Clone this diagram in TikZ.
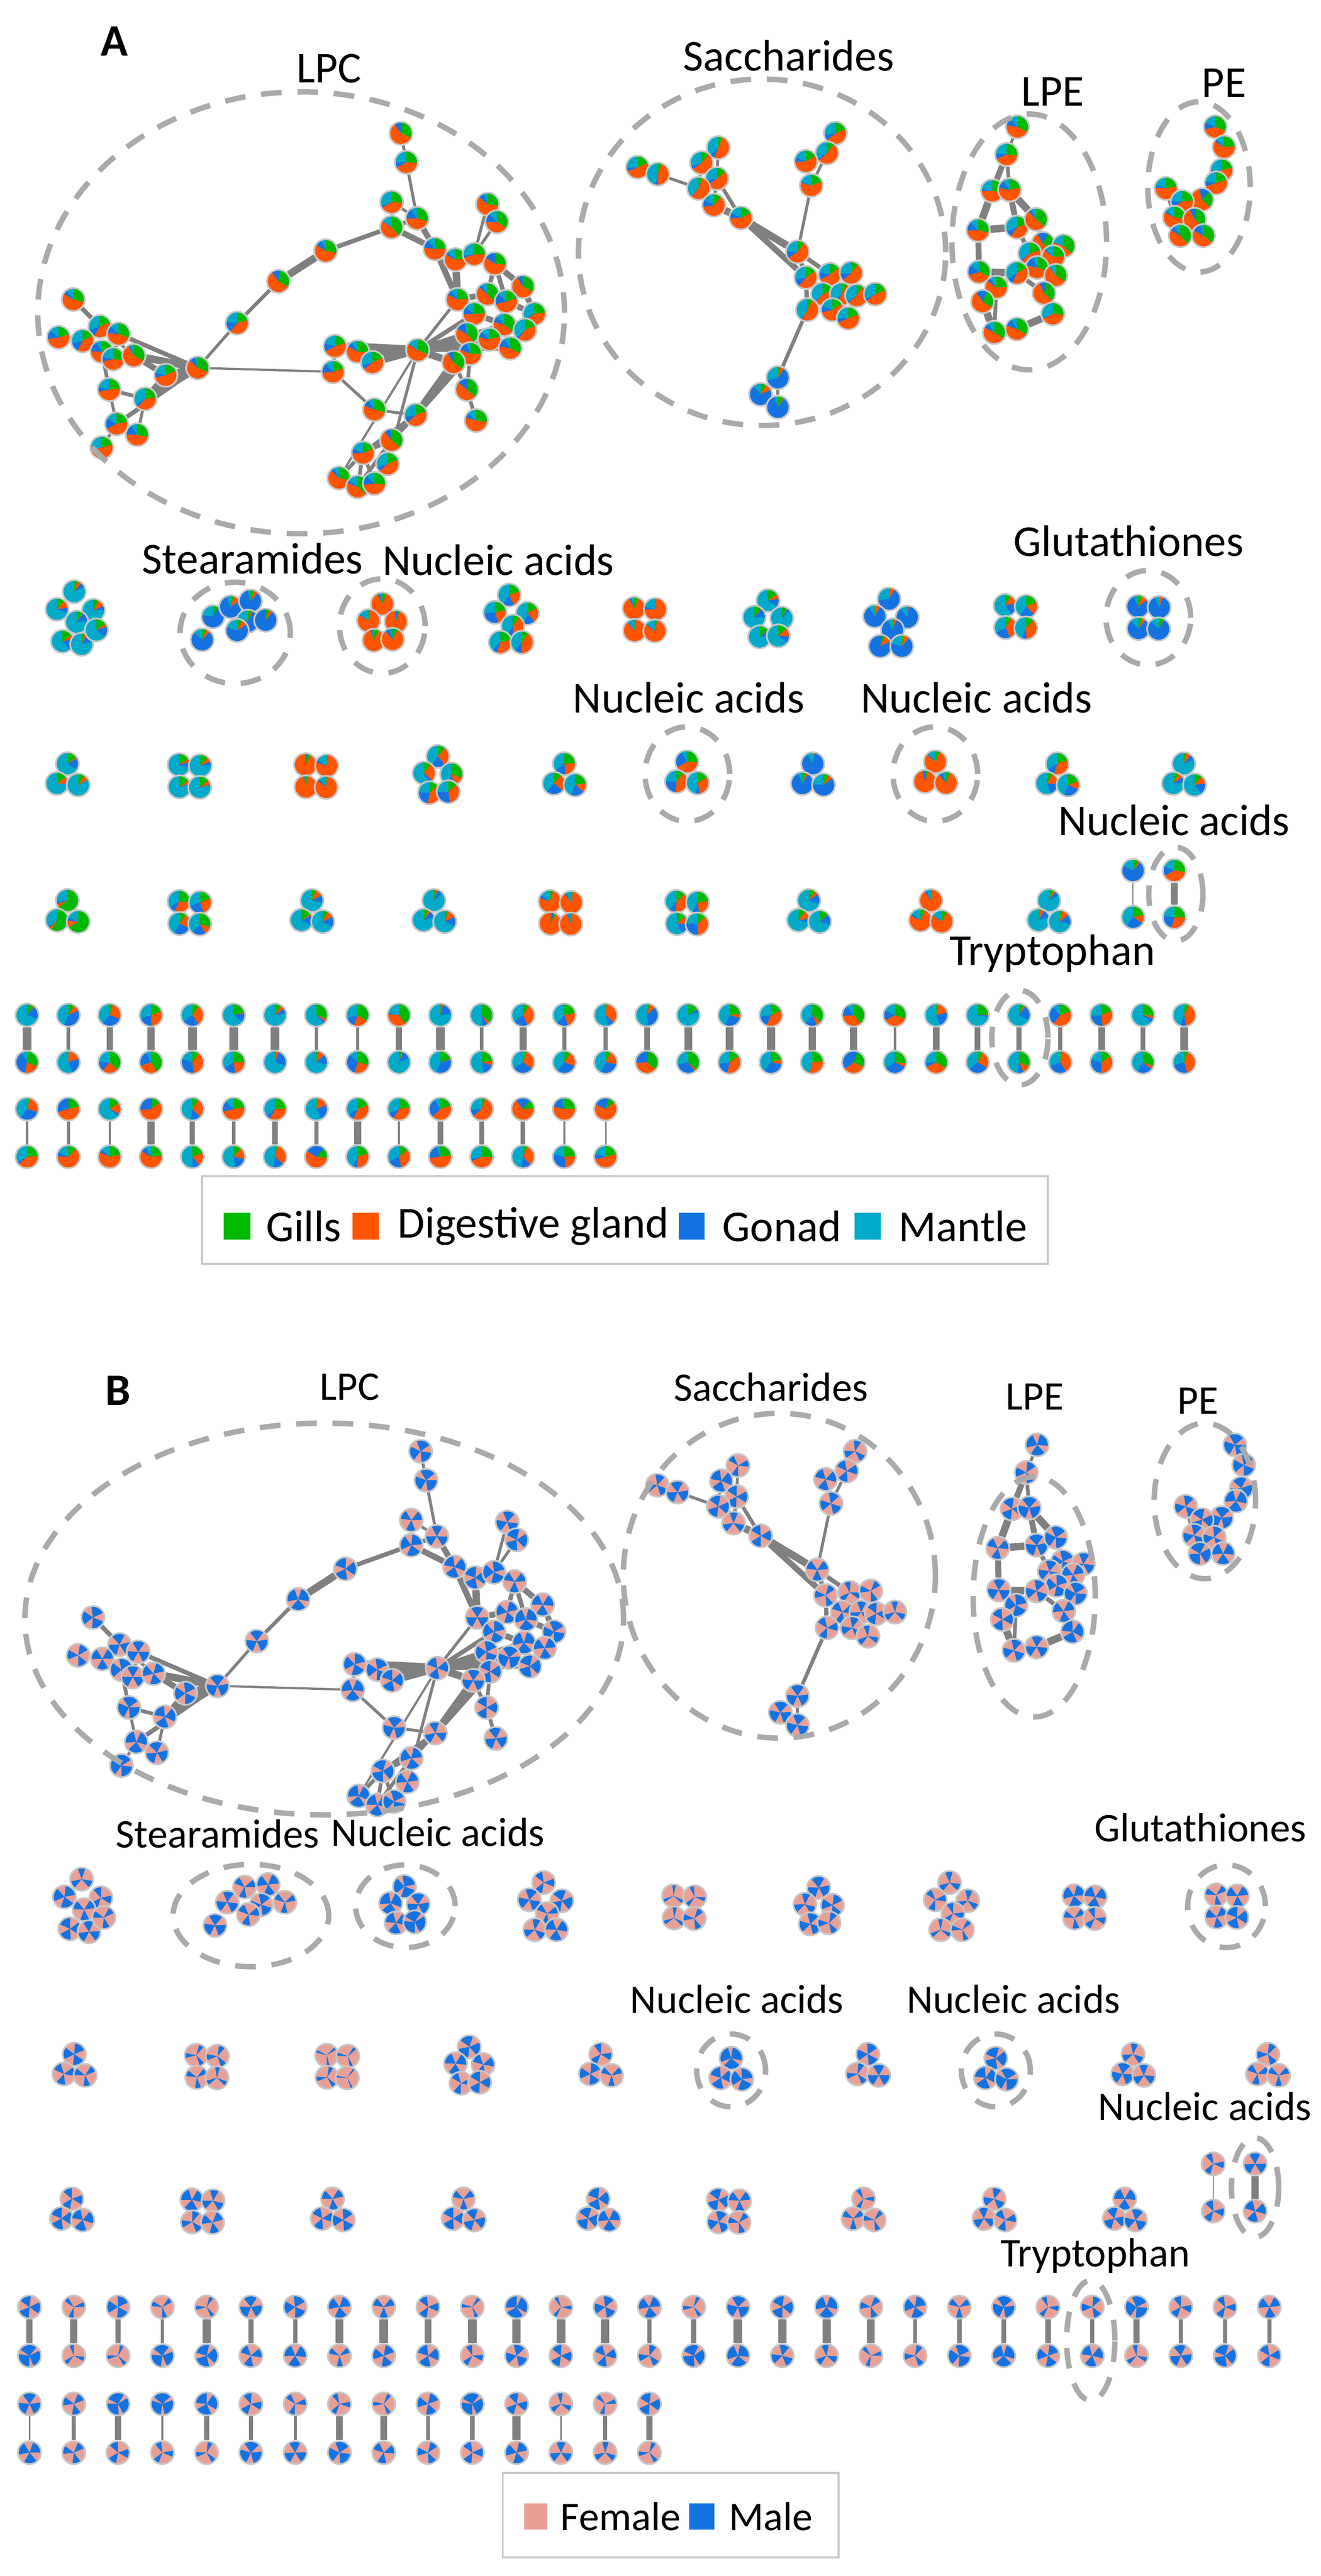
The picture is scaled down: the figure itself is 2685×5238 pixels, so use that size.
\documentclass[tikz,border=0pt]{standalone}
\usepackage{fontspec}
\setmainfont{Carlito}
\usetikzlibrary{backgrounds}
\definecolor{cG}{RGB}{0,185,0}
\definecolor{cO}{RGB}{255,85,0}
\definecolor{cB}{RGB}{20,115,225}
\definecolor{cC}{RGB}{0,170,200}
\definecolor{cP}{RGB}{232,160,150}
\definecolor{cE}{RGB}{128,128,128}
\definecolor{cD}{RGB}{170,170,170}
\definecolor{cN}{RGB}{200,200,200}
\newcommand\ctr{(path picture bounding box.center)}
\newcommand\pieA[6]{%
 \pgfmathsetmacro\zga{random(#1,#2)}\pgfmathsetmacro\zgb{random(#3,#4)}\pgfmathsetmacro\zgc{random(#5,#6)}%
 \fill[cC] \ctr circle[radius=1cm];
 \fill[cG] \ctr -- ++(90:1cm) arc[start angle=90,delta angle=-\zga,radius=1cm] -- cycle;
 \fill[cO] \ctr -- ++(90-\zga:1cm) arc[start angle=90-\zga,delta angle=-\zgb,radius=1cm] -- cycle;
 \fill[cB] \ctr -- ++(90-\zga-\zgb:1cm) arc[start angle=90-\zga-\zgb,delta angle=-\zgc,radius=1cm] -- cycle;}
\newcommand\pieB[2]{%
 \pgfmathsetmacro\zqa{random(#1,#2)/3}\pgfmathsetmacro\zqo{random(0,359)}%
 \fill[cP] \ctr circle[radius=1cm];
 \foreach \k in {0,120,240}{\fill[cB] \ctr -- ++(\zqo+\k:1cm) arc[start angle=\zqo+\k,delta angle=\zqa,radius=1cm] -- cycle;}}
\tikzset{
 nd/.style={circle,inner sep=0pt,minimum size=0.47cm,draw=cN,line width=0.035cm},
 pA/.style n args={6}{nd,path picture={\pieA{#1}{#2}{#3}{#4}{#5}{#6}}},
 pQ/.style n args={2}{nd,path picture={\pieB{#1}{#2}}},
 setA/.style={
  pa/.style={pA={30}{110}{40}{150}{20}{100}},
  po/.style={pA={1}{30}{260}{340}{1}{20}},
  pb/.style={pA={1}{30}{1}{40}{220}{320}},
  pc/.style={pA={10}{60}{1}{50}{1}{60}},
  pg/.style={pA={200}{300}{1}{40}{1}{30}},
  pl/.style={pA={60}{140}{140}{220}{1}{60}},
  ps/.style={pA={20}{70}{150}{230}{1}{40}},
  pp/.style={pA={1}{150}{1}{150}{1}{150}},
  pr/.style={pA={1}{100}{60}{250}{1}{120}}},
 setB/.style={
  pa/.style={pQ={100}{220}}, po/.style={pQ={30}{120}}, pb/.style={pQ={200}{300}},
  pc/.style={pQ={100}{220}}, pg/.style={pQ={100}{220}}, pl/.style={pQ={150}{260}},
  ps/.style={pQ={100}{220}}, pp/.style={pQ={60}{300}}, pr/.style={pQ={60}{300}}},
 ed/.style={draw=cE},
 dsh/.style={draw=cD,line width=0.11cm,dash pattern=on 0.42cm off 0.32cm},
 lbl/.style={font=\fontsize{25.5}{30}\selectfont,inner sep=0pt},
 lbB/.style={font=\fontsize{23.5}{28}\selectfont,inner sep=0pt},
}
\newcommand\clus[5]{%
 \ifcase#4\or\or\or
  \foreach \i/\dx/\dy in {a/0/-25,b/-21/15,c/22/18}{\node[#5] (#1\i) at (#2+\dx,#3+\dy) {};}
 \or
  \foreach \i/\dx/\dy in {a/-21/-23,b/22/-21,c/-20/22,d/21/23}{\node[#5] (#1\i) at (#2+\dx,#3+\dy) {};}
 \or
  \foreach \i/\dx/\dy in {a/0/-40,b/-28/-6,c/28/-4,d/-17/34,e/21/32}{\node[#5] (#1\i) at (#2+\dx,#3+\dy) {};}
 \or
  \foreach \i/\dx/\dy in {a/-5/-50,b/-34/-15,c/32/-13,d/2/13,e/-23/46,f/21/46}{\node[#5] (#1\i) at (#2+\dx,#3+\dy) {};}
 \or
  \foreach \i/\dx/\dy in {a/-5/-57,b/-40/-21,c/34/-19,d/0/5,e/-29/44,f/10/50,g/40/21}{\node[#5] (#1\i) at (#2+\dx,#3+\dy) {};}
 \fi}
\newcommand\network[1]{%
 \foreach \n/\x/\y in {L1/149/609,L2/203/664,L3/119/686,L4/168/693,L5/241/679,L6/207/715,L7/230/730,L8/272/723,L9/337/763,L10/222/792,L11/295/811,L12/237/862,L13/279/884,L14/207/910,
  C1/402/748,C2/482/657,C3/566/572,C4/662/510,C5/796/462,C6/796/411,C7/848/444,C8/815/271,C9/826/330,
  R1/884/506,R2/926/528,R3/964/517,R4/991/415,R5/1010/451,R6/1006/536,R7/1063/583,R8/930/609,R9/991/598,R10/1029/613,R11/1086/638,R12/964/638,R13/1025/660,R14/1067/671,R15/949/679,R16/995/690,R17/1037/708,R18/956/719,R19/922/737,R20/849/712,R21/681/704,R22/727/715,R23/757/737,R24/677/756,R25/949/792,R26/968/855,R27/761/833,R28/845/844,R29/796/895,R30/738/921,R31/788/943,R32/689/972,R33/727/990,R34/761/983}
  {\node[pl] (#1\n) at (\x,\y) {};}
 \foreach \n/\x/\y in {S1/1296/340,S2/1337/354,S3/1460/300,S4/1426/331,S5/1457/363,S6/1420/383,S7/1451/417,S8/1506/443,S9/1698/271,S10/1681/311,S11/1638/328,S12/1649/377,S13/1621/512,S14/1638/564,S15/1687/558,S16/1730/555,S17/1672/598,S18/1710/598,S19/1741/601,S20/1779/598,S21/1641/630,S22/1692/630,S23/1724/647}
  {\node[ps] (#1\n) at (\x,\y) {};}
 \foreach \n/\x/\y in {S24/1581/768,S25/1546/802,S26/1581/828}{\node[pb] (#1\n) at (\x,\y) {};}
 \foreach \n/\x/\y in {P1/2068/258,P2/2046/314,P3/2017/388,P4/2052/386,P5/1988/468,P6/2067/462,P7/2106/446,P8/2120/495,P9/2162/500,P10/2093/515,P11/2141/522,P12/2108/544,P13/2146/560,P14/1990/553,P15/2067/555,P16/2025/584,P17/1997/613,P18/2122/596,P19/2140/638,P20/2021/676,P21/2067/669,
  E1/2470/258,E2/2488/299,E3/2483/346,E4/2472/372,E5/2370/383,E6/2443/406,E7/2403/410,E8/2387/442,E9/2428/446,E10/2399/479,E11/2446/479}
  {\node[pl] (#1\n) at (\x,\y) {};}
 \begin{pgfonlayer}{background}
 \foreach \a/\b/\w in {L1/L2/.06,L2/L4/.05,L2/L5/.05,L3/L4/.04,L4/L6/.05,L5/L7/.05,L6/L7/.05,L7/L8/.05,L2/L8/.04,L8/L9/.08,L8/C1/.1,L5/C1/.06,L9/C1/.1,L6/L10/.05,L10/L11/.05,L11/L9/.08,L10/L12/.04,L12/L13/.05,L11/L13/.04,L12/L14/.04,L11/C1/.1,L12/C1/.06,
  C1/C2/.04,C2/C3/.05,C3/C4/.1,C4/C5/.06,C5/C6/.04,C5/C7/.06,C6/C7/.04,C8/C9/.04,C9/C7/.04,C1/R24/.03,
  C5/R1/.08,C7/R1/.08,R1/R2/.06,R2/R3/.06,R3/R4/.04,R4/R5/.04,R3/R5/.04,R3/R6/.06,R2/R8/.1,R1/R8/.08,R6/R7/.08,R8/R9/.08,R9/R10/.08,R10/R11/.08,R7/R11/.08,R12/R13/.08,R13/R14/.08,R11/R14/.08,R12/R15/.08,R15/R16/.08,R16/R17/.08,R14/R17/.08,R9/R12/.08,R8/R12/.08,R6/R9/.06,R6/R10/.06,R7/R10/.06,R15/R18/.06,R18/R19/.06,R19/R20/.1,R20/R15/.08,R20/R16/.08,R20/R13/.06,R20/R17/.06,R20/R12/.06,R20/R8/.04,R21/R20/.12,R22/R20/.12,R23/R20/.1,R21/R22/.05,R22/R23/.05,R21/R24/.05,R24/R27/.04,R27/R28/.04,R28/R19/.1,R28/R18/.08,R19/R25/.05,R25/R26/.05,R18/R25/.05,R28/R29/.06,R28/R30/.06,R20/R31/.04,R29/R30/.05,R30/R32/.05,R30/R33/.05,R30/R34/.05,R31/R34/.05,R29/R33/.05,R20/R32/.03,
  S1/S2/.04,S2/S6/.04,S3/S4/.04,S4/S5/.04,S3/S5/.04,S5/S6/.05,S4/S6/.04,S6/S7/.06,S5/S7/.05,S7/S8/.1,S5/S8/.05,S8/S13/.1,S7/S13/.06,S8/S14/.08,S13/S14/.06,S9/S10/.04,S10/S11/.04,S10/S12/.04,S11/S12/.04,S12/S13/.04,S13/S15/.06,S14/S15/.06,S14/S17/.06,S15/S16/.06,S16/S18/.06,S15/S17/.06,S17/S18/.06,S18/S19/.06,S19/S20/.06,S17/S21/.06,S21/S22/.06,S22/S23/.06,S18/S22/.06,S14/S21/.06,S21/S24/.05,S24/S25/.04,S24/S26/.04,S25/S26/.04,
  P1/P2/.04,P2/P3/.08,P2/P4/.05,P3/P4/.05,P3/P5/.1,P4/P7/.1,P4/P6/.08,P5/P6/.1,P6/P10/.06,P7/P8/.08,P8/P9/.06,P8/P10/.06,P9/P11/.06,P10/P12/.06,P11/P12/.06,P11/P13/.06,P12/P13/.06,P5/P14/.08,P14/P15/.1,P15/P12/.08,P14/P16/.06,P15/P16/.06,P16/P17/.06,P17/P20/.1,P20/P21/.08,P21/P19/.1,P19/P18/.06,P18/P13/.06,P18/P15/.06,P16/P20/.05,
  E1/E2/.05,E2/E3/.05,E3/E4/.05,E4/E6/.05,E6/E7/.05,E5/E7/.05,E7/E8/.05,E6/E9/.05,E8/E9/.05,E8/E10/.05,E9/E11/.05,E10/E11/.05,E7/E9/.05,E5/E8/.05}
  {\draw[ed,line width={1.5*\w cm}] (#1\a) -- (#1\b);}
 \end{pgfonlayer}}
\begin{document}
\begin{tikzpicture}[x=0.01cm,y=-0.01cm]
\pgfmathsetseed{4242}
\useasboundingbox (0,0) rectangle (2685,5238);
\begin{pgfonlayer}{background}\fill[white] (0,0) rectangle (2685,5238);\end{pgfonlayer}
%%%%%%%%%%%%%%%%%%%%% PANEL A
\begin{scope}[setA]
\node[font=\fontsize{26}{30}\selectfont\bfseries,inner sep=0pt] (labA) at (233,84) {A};
\network{A}
\draw[dsh] (612,636) ellipse[x radius=5.35cm,y radius=4.49cm];
\draw[dsh] (1549,513) ellipse[x radius=3.73cm,y radius=3.52cm];
\draw[dsh] (2092,492) ellipse[x radius=1.57cm,y radius=2.6cm];
\draw[dsh] (2437,380) ellipse[x radius=1.04cm,y radius=1.73cm];
\node[lbl] (aLPC) at (669,139) {LPC};
\node[lbl] (aSac) at (1603,113) {Saccharides};
\node[lbl] (aLPE) at (2140,187) {LPE};
\node[lbl] (aPE) at (2488,169) {PE};
% row 1
\clus{a11}{156}{1260}{7}{pc}
\foreach \i/\x/\y in {a/433/1254,b/411/1301,c/469/1234,d/509/1222,e/504/1263,f/482/1282,g/540/1261}{\node[pb] (st\i) at (\x,\y) {};}
\clus{a13}{777}{1268}{5}{po}
\clus{a14}{1040}{1260}{6}{pa}
\clus{a15}{1310}{1260}{4}{po}
\clus{a16}{1561}{1261}{5}{pc}
\clus{a17}{1812}{1268}{6}{pb}
\clus{a18}{2064}{1254}{4}{pa}
\clus{a19}{2334}{1256}{4}{pb}
\draw[dsh] (478,1287) ellipse[x radius=1.12cm,y radius=1.03cm];
\draw[dsh] (777,1273) ellipse[x radius=0.87cm,y radius=0.96cm];
\draw[dsh] (2334,1256) ellipse[x radius=0.86cm,y radius=0.96cm];
\node[lbl] (aSt) at (513,1136) {Stearamides};
\node[lbl] (aNA1) at (1013,1139) {Nucleic acids};
\node[lbl] (aGl) at (2294,1100) {Glutathiones};
% row 2
\clus{a21}{137}{1578}{3}{pc}
\clus{a22}{385}{1578}{4}{pc}
\clus{a23}{642}{1578}{4}{po}
\clus{a24}{890}{1578}{5}{pa}
\clus{a25}{1147}{1578}{3}{pa}
\clus{a26}{1396}{1574}{3}{pa}
\clus{a27}{1652}{1578}{3}{pb}
\clus{a28}{1901}{1574}{3}{po}
\clus{a29}{2149}{1578}{3}{pa}
\clus{a20}{2406}{1578}{3}{pc}
\draw[dsh] (1397,1574) ellipse[x radius=0.86cm,y radius=0.96cm];
\draw[dsh] (1901,1574) ellipse[x radius=0.86cm,y radius=0.96cm];
\node[lbl] (aNA2) at (1400,1419) {Nucleic acids};
\node[lbl] (aNA3) at (1985,1419) {Nucleic acids};
% row 3
\clus{a31}{137}{1856}{3}{pg}
\clus{a32}{385}{1856}{4}{pa}
\clus{a33}{634}{1856}{3}{pc}
\clus{a34}{882}{1856}{3}{pc}
\clus{a35}{1139}{1856}{4}{po}
\clus{a36}{1396}{1856}{4}{pa}
\clus{a37}{1644}{1856}{3}{pc}
\clus{a38}{1892}{1856}{3}{po}
\clus{a39}{2132}{1856}{3}{pc}
\node[pb] (a3pa) at (2303,1770) {};
\node[pa] (a3pb) at (2303,1865) {};
\node[pa] (a3qa) at (2387,1770) {};
\node[pa] (a3qb) at (2387,1865) {};
\begin{pgfonlayer}{background}
\draw[ed,line width=0.02cm] (a3pa) -- (a3pb);
\draw[ed,line width=0.14cm] (a3qa) -- (a3qb);
\end{pgfonlayer}
\draw[dsh] (2390,1818) ellipse[x radius=0.55cm,y radius=0.95cm];
\node[lbl] (aNA4) at (2386,1668) {Nucleic acids};
% pairs
\foreach \k in {0,...,28}{
 \node[pp] (a4t\k) at (55+84*\k,2064) {};
 \node[pp] (a4b\k) at (55+84*\k,2160) {};
 \pgfmathsetmacro\ww{random(6,18)/100}
 \begin{pgfonlayer}{background}\draw[ed,line width=\ww cm] (a4t\k) -- (a4b\k);\end{pgfonlayer}}
\foreach \k in {0,...,14}{
 \node[pr] (a5t\k) at (55+84*\k,2255) {};
 \node[pr] (a5b\k) at (55+84*\k,2352) {};
 \pgfmathsetmacro\ww{random(3,17)/100}
 \begin{pgfonlayer}{background}\draw[ed,line width=\ww cm] (a5t\k) -- (a5b\k);\end{pgfonlayer}}
\draw[dsh] (2073,2110) ellipse[x radius=0.57cm,y radius=0.96cm];
\node[lbl] (aTr) at (2139,1939) {Tryptophan};
% legend
\draw[draw=cN,line width=0.04cm] (411,2392) rectangle (2130,2570);
\fill[cG] (455,2466) rectangle (509,2520);
\node[lbl,anchor=west] (lgG) at (540,2493) {Gills};
\fill[cO] (717,2466) rectangle (770,2520);
\node[lbl,anchor=west] (lgD) at (808,2493) {Digestive gland};
\fill[cB] (1380,2466) rectangle (1432,2520);
\node[lbl,anchor=west] (lgGo) at (1468,2493) {Gonad};
\fill[cC] (1737,2466) rectangle (1790,2520);
\node[lbl,anchor=west] (lgM) at (1826,2493) {Mantle};
\end{scope}
%%%%%%%%%%%%%%%%%%%%% PANEL B
\begin{scope}[setB]
\node[font=\fontsize{26}{30}\selectfont\bfseries,inner sep=0pt] (labB) at (240,2828) {B};
\begin{scope}[shift={(40,2680)}]
\network{B}
\end{scope}
\draw[dsh] (659,3292) ellipse[x radius=6.08cm,y radius=3.98cm];
\draw[dsh] (1584,3204) ellipse[x radius=3.17cm,y radius=3.3cm];
\draw[dsh] (2102,3247) ellipse[x radius=1.24cm,y radius=2.44cm];
\draw[dsh] (2449,3052) ellipse[x radius=1.03cm,y radius=1.58cm];
\node[lbB] (bLPC) at (711,2820) {LPC};
\node[lbB] (bSac) at (1567,2820) {Saccharides};
\node[lbB] (bLPE) at (2103,2840) {LPE};
\node[lbB] (bPE) at (2435,2849) {PE};
% row 1
\clus{b11}{171}{3878}{7}{pa}
\foreach \i/\x/\y in {a/462/3868,b/437/3915,c/497/3837,d/545/3832,e/531/3873,f/505/3893,g/579/3868}{\node[pa] (bst\i) at (\x,\y) {};}
\clus{b13}{822}{3876}{5}{pb}
\clus{b14}{1110}{3878}{6}{pa}
\clus{b15}{1390}{3878}{4}{po}
\clus{b16}{1664}{3878}{5}{pa}
\clus{b17}{1935}{3878}{6}{po}
\clus{b18}{2204}{3878}{4}{pa}
\clus{b19}{2493}{3876}{4}{pa}
\draw[dsh] (510,3895) ellipse[x radius=1.58cm,y radius=1.04cm];
\draw[dsh] (824,3876) ellipse[x radius=1.01cm,y radius=0.84cm];
\draw[dsh] (2493,3876) ellipse[x radius=0.79cm,y radius=0.84cm];
\node[lbB] (bSt) at (442,3729) {Stearamides};
\node[lbB] (bNA1) at (890,3726) {Nucleic acids};
\node[lbB] (bGl) at (2440,3716) {Glutathiones};
% row 2
\clus{b21}{151}{4202}{3}{pa}
\clus{b22}{420}{4202}{4}{po}
\clus{b23}{685}{4202}{4}{po}
\clus{b24}{954}{4202}{5}{pa}
\clus{b25}{1221}{4202}{3}{pa}
\clus{b26}{1486}{4210}{3}{pb}
\clus{b27}{1764}{4202}{3}{pa}
\clus{b28}{2024}{4210}{3}{pb}
\clus{b29}{2303}{4202}{3}{pa}
\clus{b20}{2577}{4202}{3}{pa}
\draw[dsh] (1486,4210) ellipse[x radius=0.7cm,y radius=0.74cm];
\draw[dsh] (2024,4210) ellipse[x radius=0.7cm,y radius=0.74cm];
\node[lbB] (bNA2) at (1498,4065) {Nucleic acids};
\node[lbB] (bNA3) at (2060,4065) {Nucleic acids};
% row 3
\clus{b31}{146}{4496}{3}{pa}
\clus{b32}{411}{4496}{4}{pa}
\clus{b33}{676}{4496}{3}{pa}
\clus{b34}{942}{4496}{3}{pa}
\clus{b35}{1216}{4496}{3}{pb}
\clus{b36}{1481}{4496}{4}{pa}
\clus{b37}{1755}{4496}{3}{po}
\clus{b38}{2021}{4496}{3}{pa}
\clus{b39}{2286}{4496}{3}{pa}
\node[po] (b3pa) at (2466,4400) {};
\node[pa] (b3pb) at (2466,4496) {};
\node[pa] (b3qa) at (2551,4400) {};
\node[pa] (b3qb) at (2551,4496) {};
\begin{pgfonlayer}{background}
\draw[ed,line width=0.02cm] (b3pa) -- (b3pb);
\draw[ed,line width=0.14cm] (b3qa) -- (b3qb);
\end{pgfonlayer}
\draw[dsh] (2551,4448) ellipse[x radius=0.48cm,y radius=1.01cm];
\node[lbB] (bNA4) at (2449,4283) {Nucleic acids};
% pairs
\foreach \k in {0,...,28}{
 \node[pp] (b4t\k) at (60+90*\k,4691) {};
 \node[pp] (b4b\k) at (60+90*\k,4790) {};
 \pgfmathsetmacro\ww{random(6,18)/100}
 \begin{pgfonlayer}{background}\draw[ed,line width=\ww cm] (b4t\k) -- (b4b\k);\end{pgfonlayer}}
\foreach \k in {0,...,14}{
 \node[pp] (b5t\k) at (60+90*\k,4888) {};
 \node[pp] (b5b\k) at (60+90*\k,4987) {};
 \pgfmathsetmacro\ww{random(3,17)/100}
 \begin{pgfonlayer}{background}\draw[ed,line width=\ww cm] (b5t\k) -- (b5b\k);\end{pgfonlayer}}
\draw[dsh] (2217,4759) ellipse[x radius=0.49cm,y radius=1.22cm];
\node[lbB] (bTr) at (2226,4587) {Tryptophan};
% legend
\draw[draw=cN,line width=0.04cm] (1022,5028) rectangle (1704,5200);
\fill[cP] (1065,5090) rectangle (1113,5144);
\node[lbB,anchor=west] (lgF) at (1139,5117) {Female};
\fill[cB] (1401,5090) rectangle (1452,5144);
\node[lbB,anchor=west] (lgMa) at (1481,5117) {Male};
\end{scope}
\end{tikzpicture}
\end{document}
